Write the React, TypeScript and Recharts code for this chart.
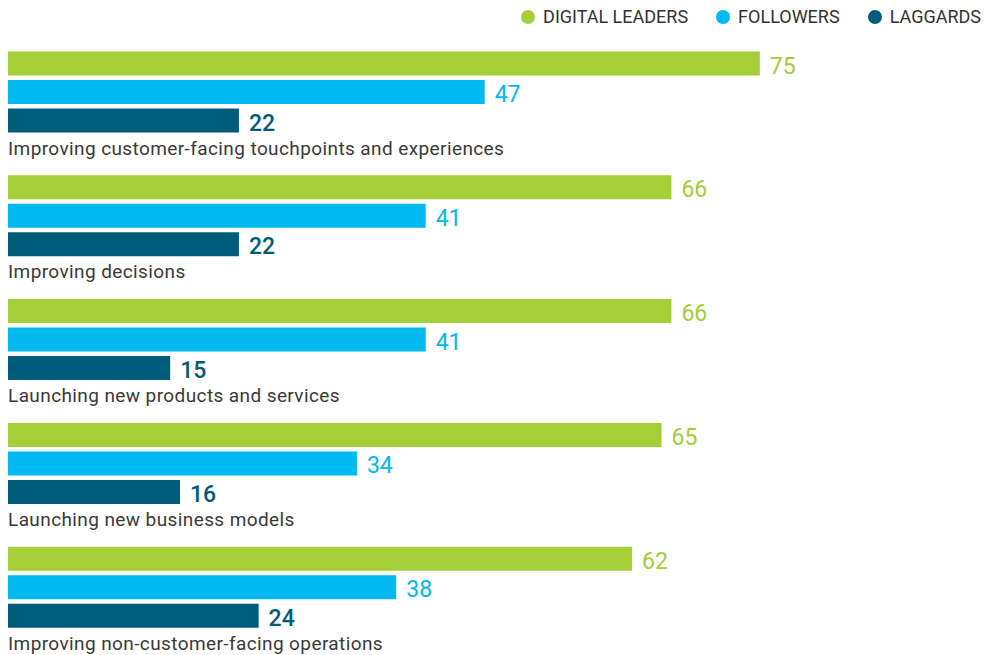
import React from 'react';
import { BarChart, Bar, XAxis, YAxis, LabelList } from 'recharts';

const categories = [
  'Improving customer-facing touchpoints and experiences',
  'Improving decisions',
  'Launching new products and services',
  'Launching new business models',
  'Improving non-customer-facing operations',
];
const leaders = [75, 66, 66, 65, 62];
const followers = [47, 41, 41, 34, 38];
const laggards = [22, 22, 15, 16, 24];

const series = [
  { key: 'leaders', label: 'DIGITAL LEADERS', color: '#a6ce39', weight: 400 },
  { key: 'followers', label: 'FOLLOWERS', color: '#00b9f1', weight: 400 },
  { key: 'laggards', label: 'LAGGARDS', color: '#005c7a', weight: 500 },
];

// bars in the original start a little left of zero
const BASE = -1.5;

const data = categories.map((name, i) => ({
  name,
  leaders: leaders[i],
  followers: followers[i],
  laggards: laggards[i],
}));

const FONT = 'Roboto, "Open Sans", sans-serif';

const makeLabel = (color: string, weight: number, withCategory: boolean) => (props: any) => {
  const { x, y, width, height, value, index } = props;
  return (
    <g>
      <text
        x={x + width + 10}
        y={y + height / 2 + 2.5}
        fill={color}
        fontSize={23}
        fontWeight={weight}
        fontFamily={FONT}
        dominantBaseline="central"
      >
        {value}
      </text>
      {withCategory && (
        <text
          x={8}
          y={y + height + 22}
          fill="#3a3a3a"
          fontSize={19}
          letterSpacing={0.4}
          fontFamily={FONT}
        >
          {categories[index]}
        </text>
      )}
    </g>
  );
};

function Legend() {
  return (
    <div
      style={{
        position: 'absolute',
        top: 8,
        right: 4,
        display: 'flex',
        gap: 28,
        whiteSpace: 'nowrap',
        fontFamily: FONT,
        fontSize: 18,
        color: '#333',
        lineHeight: '18px',
      }}
    >
      {series.map((s) => (
        <div key={s.key} style={{ display: 'flex', alignItems: 'center', gap: 8 }}>
          <span
            style={{ width: 14, height: 14, borderRadius: 7, background: s.color, display: 'inline-block' }}
          />
          <span>{s.label}</span>
        </div>
      ))}
    </div>
  );
}

export default function App() {
  return (
    <div style={{ position: 'absolute', top: 0, left: 0, width: 985, height: 655, overflow: 'hidden' }}>
      <Legend />
      <BarChart
        width={985}
        height={655}
        data={data}
        layout="vertical"
        margin={{ top: 30.6, right: 176, bottom: 5.6, left: 8 }}
        barGap={4.5}
      >
        <XAxis type="number" domain={[BASE, 80]} hide allowDataOverflow />
        <YAxis type="category" dataKey="name" hide />
        {series.map((s) => (
          <Bar
            key={s.key}
            dataKey={(d: any) => [BASE, d[s.key]]}
            fill={s.color}
            barSize={24}
            isAnimationActive={false}
          >
            <LabelList dataKey={s.key} content={makeLabel(s.color, s.weight, s.key === 'laggards')} />
          </Bar>
        ))}
      </BarChart>
    </div>
  );
}
